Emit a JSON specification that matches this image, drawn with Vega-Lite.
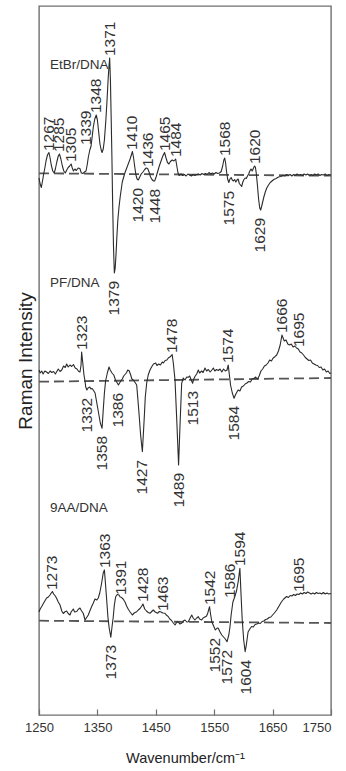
{
  "$schema": "https://vega.github.io/schema/vega-lite/v6.json",
  "width": 292,
  "height": 709,
  "autosize": {"type": "none"},
  "padding": {"left": 39, "top": 6, "right": 15, "bottom": 56},
  "background": "white",
  "config": {
    "view": {"stroke": "#6f6f6f", "strokeWidth": 1.4},
    "font": "Liberation Sans",
    "axis": {"grid": false}
  },
  "datasets": {
    "baselines": [
      {"series": "EtBr/DNA", "wn": 1250, "y": 541.7}, {"series": "EtBr/DNA", "wn": 1750, "y": 539.3},
      {"series": "PF/DNA", "wn": 1250, "y": 333.3}, {"series": "PF/DNA", "wn": 1750, "y": 337},
      {"series": "9AA/DNA", "wn": 1250, "y": 94.3}, {"series": "9AA/DNA", "wn": 1750, "y": 92}
    ],
    "spectra": [
      {"series":"EtBr/DNA","wn":1250,"y":537},{"series":"EtBr/DNA","wn":1252,"y":531},{"series":"EtBr/DNA","wn":1254,"y":527.5},{"series":"EtBr/DNA","wn":1256,"y":534},{"series":"EtBr/DNA","wn":1258,"y":541},{"series":"EtBr/DNA","wn":1260,"y":547},{"series":"EtBr/DNA","wn":1262,"y":554},{"series":"EtBr/DNA","wn":1264.5,"y":560},{"series":"EtBr/DNA","wn":1267,"y":562.5},{"series":"EtBr/DNA","wn":1269,"y":557},{"series":"EtBr/DNA","wn":1271,"y":550},{"series":"EtBr/DNA","wn":1273.5,"y":544},{"series":"EtBr/DNA","wn":1276,"y":542},{"series":"EtBr/DNA","wn":1278,"y":546},{"series":"EtBr/DNA","wn":1280.5,"y":553},{"series":"EtBr/DNA","wn":1283,"y":559},{"series":"EtBr/DNA","wn":1285,"y":561},{"series":"EtBr/DNA","wn":1287.5,"y":556},{"series":"EtBr/DNA","wn":1290,"y":549},{"series":"EtBr/DNA","wn":1292.5,"y":544},{"series":"EtBr/DNA","wn":1295,"y":542},{"series":"EtBr/DNA","wn":1297.5,"y":545},{"series":"EtBr/DNA","wn":1300,"y":547.5},{"series":"EtBr/DNA","wn":1302.5,"y":549},{"series":"EtBr/DNA","wn":1305,"y":551},{"series":"EtBr/DNA","wn":1307,"y":547},{"series":"EtBr/DNA","wn":1309,"y":544},{"series":"EtBr/DNA","wn":1311.5,"y":546},{"series":"EtBr/DNA","wn":1314,"y":544.5},{"series":"EtBr/DNA","wn":1317,"y":547},{"series":"EtBr/DNA","wn":1320,"y":546.5},{"series":"EtBr/DNA","wn":1322.5,"y":542},{"series":"EtBr/DNA","wn":1325,"y":541.5},{"series":"EtBr/DNA","wn":1328,"y":543},{"series":"EtBr/DNA","wn":1330.5,"y":544},{"series":"EtBr/DNA","wn":1332.5,"y":550},{"series":"EtBr/DNA","wn":1334.5,"y":558},{"series":"EtBr/DNA","wn":1337,"y":565},{"series":"EtBr/DNA","wn":1339,"y":568.5},{"series":"EtBr/DNA","wn":1341,"y":578},{"series":"EtBr/DNA","wn":1343,"y":588},{"series":"EtBr/DNA","wn":1345.5,"y":596},{"series":"EtBr/DNA","wn":1348,"y":600},{"series":"EtBr/DNA","wn":1350,"y":595},{"series":"EtBr/DNA","wn":1352,"y":584},{"series":"EtBr/DNA","wn":1354.4,"y":571},{"series":"EtBr/DNA","wn":1356.5,"y":565},{"series":"EtBr/DNA","wn":1358,"y":562.5},{"series":"EtBr/DNA","wn":1360,"y":566},{"series":"EtBr/DNA","wn":1362,"y":575},{"series":"EtBr/DNA","wn":1364.5,"y":595},{"series":"EtBr/DNA","wn":1366.5,"y":615},{"series":"EtBr/DNA","wn":1368.5,"y":637},{"series":"EtBr/DNA","wn":1370,"y":650},{"series":"EtBr/DNA","wn":1371,"y":657},{"series":"EtBr/DNA","wn":1372.3,"y":635},{"series":"EtBr/DNA","wn":1373.5,"y":600},{"series":"EtBr/DNA","wn":1374.8,"y":560},{"series":"EtBr/DNA","wn":1376,"y":515},{"series":"EtBr/DNA","wn":1377.5,"y":470},{"series":"EtBr/DNA","wn":1379,"y":442},{"series":"EtBr/DNA","wn":1380.5,"y":447},{"series":"EtBr/DNA","wn":1382,"y":462},{"series":"EtBr/DNA","wn":1383.5,"y":480},{"series":"EtBr/DNA","wn":1385,"y":495},{"series":"EtBr/DNA","wn":1387,"y":508},{"series":"EtBr/DNA","wn":1389,"y":518},{"series":"EtBr/DNA","wn":1392.6,"y":533},{"series":"EtBr/DNA","wn":1397,"y":542},{"series":"EtBr/DNA","wn":1401.5,"y":549},{"series":"EtBr/DNA","wn":1406,"y":556},{"series":"EtBr/DNA","wn":1410,"y":563.5},{"series":"EtBr/DNA","wn":1412,"y":557},{"series":"EtBr/DNA","wn":1414,"y":548},{"series":"EtBr/DNA","wn":1416,"y":540},{"series":"EtBr/DNA","wn":1418,"y":536},{"series":"EtBr/DNA","wn":1420,"y":535},{"series":"EtBr/DNA","wn":1422.5,"y":538},{"series":"EtBr/DNA","wn":1425,"y":541},{"series":"EtBr/DNA","wn":1428,"y":543},{"series":"EtBr/DNA","wn":1431,"y":545.5},{"series":"EtBr/DNA","wn":1433.5,"y":547},{"series":"EtBr/DNA","wn":1436,"y":546.5},{"series":"EtBr/DNA","wn":1438.5,"y":543},{"series":"EtBr/DNA","wn":1441,"y":538},{"series":"EtBr/DNA","wn":1443.5,"y":535.5},{"series":"EtBr/DNA","wn":1446,"y":534},{"series":"EtBr/DNA","wn":1448,"y":534},{"series":"EtBr/DNA","wn":1450.5,"y":538},{"series":"EtBr/DNA","wn":1453,"y":543},{"series":"EtBr/DNA","wn":1456,"y":549},{"series":"EtBr/DNA","wn":1459,"y":554},{"series":"EtBr/DNA","wn":1462,"y":559},{"series":"EtBr/DNA","wn":1465,"y":562.5},{"series":"EtBr/DNA","wn":1467.5,"y":557},{"series":"EtBr/DNA","wn":1470,"y":552.5},{"series":"EtBr/DNA","wn":1472.5,"y":551},{"series":"EtBr/DNA","wn":1475,"y":553.5},{"series":"EtBr/DNA","wn":1478,"y":555},{"series":"EtBr/DNA","wn":1481,"y":554},{"series":"EtBr/DNA","wn":1484,"y":556},{"series":"EtBr/DNA","wn":1486,"y":549},{"series":"EtBr/DNA","wn":1488,"y":542},{"series":"EtBr/DNA","wn":1490,"y":539.5},{"series":"EtBr/DNA","wn":1493,"y":541},{"series":"EtBr/DNA","wn":1496,"y":539.5},{"series":"EtBr/DNA","wn":1499,"y":540.5},{"series":"EtBr/DNA","wn":1502,"y":539},{"series":"EtBr/DNA","wn":1505,"y":541},{"series":"EtBr/DNA","wn":1508,"y":540},{"series":"EtBr/DNA","wn":1511,"y":539},{"series":"EtBr/DNA","wn":1514,"y":540.5},{"series":"EtBr/DNA","wn":1517,"y":539.5},{"series":"EtBr/DNA","wn":1520,"y":540.5},{"series":"EtBr/DNA","wn":1523,"y":541},{"series":"EtBr/DNA","wn":1526,"y":540},{"series":"EtBr/DNA","wn":1529,"y":541.5},{"series":"EtBr/DNA","wn":1532,"y":540.5},{"series":"EtBr/DNA","wn":1535,"y":541.5},{"series":"EtBr/DNA","wn":1538,"y":540.5},{"series":"EtBr/DNA","wn":1541,"y":542.5},{"series":"EtBr/DNA","wn":1544,"y":541},{"series":"EtBr/DNA","wn":1547,"y":542},{"series":"EtBr/DNA","wn":1550,"y":541},{"series":"EtBr/DNA","wn":1553,"y":542.5},{"series":"EtBr/DNA","wn":1556,"y":541.5},{"series":"EtBr/DNA","wn":1559,"y":542},{"series":"EtBr/DNA","wn":1562,"y":543.5},{"series":"EtBr/DNA","wn":1564.5,"y":549},{"series":"EtBr/DNA","wn":1566.5,"y":555},{"series":"EtBr/DNA","wn":1568,"y":557},{"series":"EtBr/DNA","wn":1569.5,"y":552},{"series":"EtBr/DNA","wn":1571,"y":544},{"series":"EtBr/DNA","wn":1573,"y":536},{"series":"EtBr/DNA","wn":1575,"y":532.5},{"series":"EtBr/DNA","wn":1577,"y":536},{"series":"EtBr/DNA","wn":1579,"y":537.5},{"series":"EtBr/DNA","wn":1581,"y":535},{"series":"EtBr/DNA","wn":1583,"y":534},{"series":"EtBr/DNA","wn":1585,"y":535.5},{"series":"EtBr/DNA","wn":1587,"y":533},{"series":"EtBr/DNA","wn":1589,"y":535},{"series":"EtBr/DNA","wn":1591,"y":536},{"series":"EtBr/DNA","wn":1593,"y":531.5},{"series":"EtBr/DNA","wn":1595,"y":530},{"series":"EtBr/DNA","wn":1597,"y":528.5},{"series":"EtBr/DNA","wn":1599,"y":533},{"series":"EtBr/DNA","wn":1601,"y":535.5},{"series":"EtBr/DNA","wn":1603,"y":537},{"series":"EtBr/DNA","wn":1605,"y":536.5},{"series":"EtBr/DNA","wn":1607,"y":539},{"series":"EtBr/DNA","wn":1609,"y":541},{"series":"EtBr/DNA","wn":1611,"y":544},{"series":"EtBr/DNA","wn":1613,"y":546},{"series":"EtBr/DNA","wn":1615,"y":544},{"series":"EtBr/DNA","wn":1617,"y":546.5},{"series":"EtBr/DNA","wn":1619,"y":549},{"series":"EtBr/DNA","wn":1620.5,"y":548},{"series":"EtBr/DNA","wn":1622,"y":542},{"series":"EtBr/DNA","wn":1624,"y":530},{"series":"EtBr/DNA","wn":1626,"y":516},{"series":"EtBr/DNA","wn":1628,"y":507},{"series":"EtBr/DNA","wn":1629.5,"y":505},{"series":"EtBr/DNA","wn":1631,"y":508},{"series":"EtBr/DNA","wn":1633,"y":513},{"series":"EtBr/DNA","wn":1635,"y":518},{"series":"EtBr/DNA","wn":1637.5,"y":523},{"series":"EtBr/DNA","wn":1640,"y":527},{"series":"EtBr/DNA","wn":1643,"y":530},{"series":"EtBr/DNA","wn":1646,"y":532.5},{"series":"EtBr/DNA","wn":1649,"y":534},{"series":"EtBr/DNA","wn":1652,"y":535.5},{"series":"EtBr/DNA","wn":1656,"y":536.5},{"series":"EtBr/DNA","wn":1660,"y":538},{"series":"EtBr/DNA","wn":1664,"y":538.5},{"series":"EtBr/DNA","wn":1668,"y":539.5},{"series":"EtBr/DNA","wn":1671,"y":539},{"series":"EtBr/DNA","wn":1674,"y":540.5},{"series":"EtBr/DNA","wn":1677,"y":539.5},{"series":"EtBr/DNA","wn":1680,"y":540.5},{"series":"EtBr/DNA","wn":1683,"y":539},{"series":"EtBr/DNA","wn":1686,"y":540.5},{"series":"EtBr/DNA","wn":1689,"y":539.5},{"series":"EtBr/DNA","wn":1692,"y":541},{"series":"EtBr/DNA","wn":1695,"y":540},{"series":"EtBr/DNA","wn":1698,"y":540.5},{"series":"EtBr/DNA","wn":1701,"y":539.5},{"series":"EtBr/DNA","wn":1704,"y":541},{"series":"EtBr/DNA","wn":1707,"y":540},{"series":"EtBr/DNA","wn":1710,"y":541},{"series":"EtBr/DNA","wn":1713,"y":539.5},{"series":"EtBr/DNA","wn":1716,"y":540.5},{"series":"EtBr/DNA","wn":1719,"y":539.5},{"series":"EtBr/DNA","wn":1722,"y":541},{"series":"EtBr/DNA","wn":1725,"y":540},{"series":"EtBr/DNA","wn":1728,"y":541},{"series":"EtBr/DNA","wn":1731,"y":539.5},{"series":"EtBr/DNA","wn":1734,"y":540.5},{"series":"EtBr/DNA","wn":1737,"y":540},{"series":"EtBr/DNA","wn":1740,"y":541},{"series":"EtBr/DNA","wn":1743,"y":539.5},{"series":"EtBr/DNA","wn":1746,"y":540.5},{"series":"EtBr/DNA","wn":1750,"y":540},

      {"series":"PF/DNA","wn":1250,"y":345},{"series":"PF/DNA","wn":1252,"y":342},{"series":"PF/DNA","wn":1254.6,"y":344},{"series":"PF/DNA","wn":1257,"y":341},{"series":"PF/DNA","wn":1260,"y":344},{"series":"PF/DNA","wn":1263,"y":343},{"series":"PF/DNA","wn":1266,"y":341.5},{"series":"PF/DNA","wn":1269,"y":344},{"series":"PF/DNA","wn":1272,"y":342.5},{"series":"PF/DNA","wn":1275,"y":343.5},{"series":"PF/DNA","wn":1278,"y":341},{"series":"PF/DNA","wn":1281,"y":344},{"series":"PF/DNA","wn":1283,"y":346},{"series":"PF/DNA","wn":1286,"y":343.5},{"series":"PF/DNA","wn":1289,"y":345},{"series":"PF/DNA","wn":1292,"y":349},{"series":"PF/DNA","wn":1295,"y":347.5},{"series":"PF/DNA","wn":1297.4,"y":351},{"series":"PF/DNA","wn":1300,"y":348},{"series":"PF/DNA","wn":1303,"y":350},{"series":"PF/DNA","wn":1306,"y":348.5},{"series":"PF/DNA","wn":1309,"y":350.5},{"series":"PF/DNA","wn":1312,"y":347},{"series":"PF/DNA","wn":1315,"y":346},{"series":"PF/DNA","wn":1318,"y":343.5},{"series":"PF/DNA","wn":1320.2,"y":343},{"series":"PF/DNA","wn":1322,"y":350},{"series":"PF/DNA","wn":1323,"y":363},{"series":"PF/DNA","wn":1325,"y":352},{"series":"PF/DNA","wn":1327,"y":340},{"series":"PF/DNA","wn":1328.8,"y":334},{"series":"PF/DNA","wn":1330,"y":328},{"series":"PF/DNA","wn":1332,"y":325},{"series":"PF/DNA","wn":1334,"y":327},{"series":"PF/DNA","wn":1337,"y":328},{"series":"PF/DNA","wn":1339,"y":326},{"series":"PF/DNA","wn":1341,"y":326.5},{"series":"PF/DNA","wn":1344,"y":324},{"series":"PF/DNA","wn":1346,"y":322},{"series":"PF/DNA","wn":1349,"y":312},{"series":"PF/DNA","wn":1352,"y":302},{"series":"PF/DNA","wn":1355,"y":292},{"series":"PF/DNA","wn":1358,"y":286.7},{"series":"PF/DNA","wn":1360,"y":305},{"series":"PF/DNA","wn":1362,"y":322},{"series":"PF/DNA","wn":1364,"y":334},{"series":"PF/DNA","wn":1367,"y":342},{"series":"PF/DNA","wn":1369.9,"y":348},{"series":"PF/DNA","wn":1372,"y":345},{"series":"PF/DNA","wn":1375,"y":342},{"series":"PF/DNA","wn":1378,"y":340},{"series":"PF/DNA","wn":1381,"y":335},{"series":"PF/DNA","wn":1383,"y":333},{"series":"PF/DNA","wn":1386,"y":330},{"series":"PF/DNA","wn":1388,"y":332},{"series":"PF/DNA","wn":1390,"y":334},{"series":"PF/DNA","wn":1392.6,"y":336},{"series":"PF/DNA","wn":1395,"y":339},{"series":"PF/DNA","wn":1398,"y":341},{"series":"PF/DNA","wn":1400,"y":342.5},{"series":"PF/DNA","wn":1402,"y":345},{"series":"PF/DNA","wn":1404.6,"y":344},{"series":"PF/DNA","wn":1407,"y":340},{"series":"PF/DNA","wn":1409,"y":336},{"series":"PF/DNA","wn":1411.5,"y":335},{"series":"PF/DNA","wn":1414,"y":333},{"series":"PF/DNA","wn":1417.3,"y":330},{"series":"PF/DNA","wn":1419,"y":318},{"series":"PF/DNA","wn":1421.2,"y":302},{"series":"PF/DNA","wn":1424,"y":280},{"series":"PF/DNA","wn":1427,"y":263.3},{"series":"PF/DNA","wn":1430.3,"y":298},{"series":"PF/DNA","wn":1432,"y":318},{"series":"PF/DNA","wn":1434.4,"y":332},{"series":"PF/DNA","wn":1437,"y":340},{"series":"PF/DNA","wn":1440,"y":345},{"series":"PF/DNA","wn":1443,"y":348.3},{"series":"PF/DNA","wn":1446,"y":351},{"series":"PF/DNA","wn":1449.8,"y":352},{"series":"PF/DNA","wn":1452,"y":349.5},{"series":"PF/DNA","wn":1455,"y":351},{"series":"PF/DNA","wn":1458,"y":350},{"series":"PF/DNA","wn":1461,"y":353},{"series":"PF/DNA","wn":1463,"y":352},{"series":"PF/DNA","wn":1466,"y":354.5},{"series":"PF/DNA","wn":1469,"y":355},{"series":"PF/DNA","wn":1471.4,"y":357},{"series":"PF/DNA","wn":1474,"y":358},{"series":"PF/DNA","wn":1476,"y":359},{"series":"PF/DNA","wn":1478,"y":360.5},{"series":"PF/DNA","wn":1480,"y":352},{"series":"PF/DNA","wn":1482.9,"y":335},{"series":"PF/DNA","wn":1486.1,"y":292},{"series":"PF/DNA","wn":1489,"y":250},{"series":"PF/DNA","wn":1491.6,"y":292},{"series":"PF/DNA","wn":1494.3,"y":331.7},{"series":"PF/DNA","wn":1497,"y":337},{"series":"PF/DNA","wn":1500,"y":335},{"series":"PF/DNA","wn":1503,"y":338},{"series":"PF/DNA","wn":1505.6,"y":337.7},{"series":"PF/DNA","wn":1508,"y":339},{"series":"PF/DNA","wn":1510,"y":336},{"series":"PF/DNA","wn":1513,"y":331.7},{"series":"PF/DNA","wn":1515,"y":336},{"series":"PF/DNA","wn":1517,"y":338.5},{"series":"PF/DNA","wn":1520,"y":341},{"series":"PF/DNA","wn":1522.8,"y":345},{"series":"PF/DNA","wn":1525,"y":342},{"series":"PF/DNA","wn":1528.6,"y":344},{"series":"PF/DNA","wn":1531,"y":342.5},{"series":"PF/DNA","wn":1534.2,"y":347},{"series":"PF/DNA","wn":1537,"y":344},{"series":"PF/DNA","wn":1540,"y":345.5},{"series":"PF/DNA","wn":1543,"y":343},{"series":"PF/DNA","wn":1546,"y":345},{"series":"PF/DNA","wn":1548.5,"y":347},{"series":"PF/DNA","wn":1551,"y":344},{"series":"PF/DNA","wn":1554,"y":345.5},{"series":"PF/DNA","wn":1557,"y":344.5},{"series":"PF/DNA","wn":1560,"y":346},{"series":"PF/DNA","wn":1563,"y":343},{"series":"PF/DNA","wn":1566,"y":346},{"series":"PF/DNA","wn":1569,"y":344},{"series":"PF/DNA","wn":1572,"y":345},{"series":"PF/DNA","wn":1574,"y":350},{"series":"PF/DNA","wn":1576,"y":340},{"series":"PF/DNA","wn":1578,"y":330},{"series":"PF/DNA","wn":1581,"y":322},{"series":"PF/DNA","wn":1584,"y":316.7},{"series":"PF/DNA","wn":1587,"y":321},{"series":"PF/DNA","wn":1591,"y":325},{"series":"PF/DNA","wn":1594,"y":324},{"series":"PF/DNA","wn":1597,"y":328},{"series":"PF/DNA","wn":1600,"y":329},{"series":"PF/DNA","wn":1603,"y":331},{"series":"PF/DNA","wn":1606,"y":332},{"series":"PF/DNA","wn":1609,"y":333.5},{"series":"PF/DNA","wn":1612,"y":333},{"series":"PF/DNA","wn":1615,"y":336},{"series":"PF/DNA","wn":1618,"y":336.5},{"series":"PF/DNA","wn":1621,"y":338},{"series":"PF/DNA","wn":1624,"y":336},{"series":"PF/DNA","wn":1627,"y":339},{"series":"PF/DNA","wn":1630,"y":344},{"series":"PF/DNA","wn":1633,"y":346},{"series":"PF/DNA","wn":1636,"y":349},{"series":"PF/DNA","wn":1639,"y":350},{"series":"PF/DNA","wn":1642,"y":352},{"series":"PF/DNA","wn":1645,"y":355},{"series":"PF/DNA","wn":1648,"y":354},{"series":"PF/DNA","wn":1651,"y":357},{"series":"PF/DNA","wn":1654,"y":358.3},{"series":"PF/DNA","wn":1657,"y":360},{"series":"PF/DNA","wn":1660,"y":364},{"series":"PF/DNA","wn":1663,"y":370},{"series":"PF/DNA","wn":1666,"y":380},{"series":"PF/DNA","wn":1668,"y":377},{"series":"PF/DNA","wn":1670,"y":374},{"series":"PF/DNA","wn":1673,"y":375},{"series":"PF/DNA","wn":1676,"y":371},{"series":"PF/DNA","wn":1679,"y":370},{"series":"PF/DNA","wn":1682,"y":371},{"series":"PF/DNA","wn":1685,"y":368},{"series":"PF/DNA","wn":1688,"y":369},{"series":"PF/DNA","wn":1691,"y":367},{"series":"PF/DNA","wn":1694,"y":366},{"series":"PF/DNA","wn":1697,"y":363},{"series":"PF/DNA","wn":1700,"y":362},{"series":"PF/DNA","wn":1703,"y":360},{"series":"PF/DNA","wn":1706,"y":357.5},{"series":"PF/DNA","wn":1709,"y":356},{"series":"PF/DNA","wn":1712,"y":354.5},{"series":"PF/DNA","wn":1715,"y":355},{"series":"PF/DNA","wn":1718,"y":352},{"series":"PF/DNA","wn":1721,"y":351},{"series":"PF/DNA","wn":1724,"y":350},{"series":"PF/DNA","wn":1727,"y":349.5},{"series":"PF/DNA","wn":1730,"y":347.5},{"series":"PF/DNA","wn":1733,"y":348},{"series":"PF/DNA","wn":1736,"y":345},{"series":"PF/DNA","wn":1739,"y":346},{"series":"PF/DNA","wn":1742,"y":343},{"series":"PF/DNA","wn":1745,"y":344},{"series":"PF/DNA","wn":1748,"y":341.5},{"series":"PF/DNA","wn":1750,"y":342},

      {"series":"9AA/DNA","wn":1250,"y":103},{"series":"9AA/DNA","wn":1252,"y":106},{"series":"9AA/DNA","wn":1254.6,"y":108.5},{"series":"9AA/DNA","wn":1257,"y":111},{"series":"9AA/DNA","wn":1260,"y":114},{"series":"9AA/DNA","wn":1263,"y":117},{"series":"9AA/DNA","wn":1266,"y":118},{"series":"9AA/DNA","wn":1268.8,"y":120},{"series":"9AA/DNA","wn":1271,"y":122},{"series":"9AA/DNA","wn":1273,"y":123.5},{"series":"9AA/DNA","wn":1275,"y":121},{"series":"9AA/DNA","wn":1278,"y":119},{"series":"9AA/DNA","wn":1280.3,"y":116.5},{"series":"9AA/DNA","wn":1283,"y":113},{"series":"9AA/DNA","wn":1286,"y":110},{"series":"9AA/DNA","wn":1289,"y":104},{"series":"9AA/DNA","wn":1291.6,"y":101.5},{"series":"9AA/DNA","wn":1294,"y":103},{"series":"9AA/DNA","wn":1297.4,"y":104},{"series":"9AA/DNA","wn":1300,"y":101.5},{"series":"9AA/DNA","wn":1303,"y":100},{"series":"9AA/DNA","wn":1305,"y":103},{"series":"9AA/DNA","wn":1308.7,"y":106},{"series":"9AA/DNA","wn":1311,"y":103},{"series":"9AA/DNA","wn":1314.6,"y":103.5},{"series":"9AA/DNA","wn":1317,"y":105.5},{"series":"9AA/DNA","wn":1320.2,"y":107},{"series":"9AA/DNA","wn":1323,"y":104},{"series":"9AA/DNA","wn":1325.9,"y":101.5},{"series":"9AA/DNA","wn":1328.8,"y":95},{"series":"9AA/DNA","wn":1331,"y":97},{"series":"9AA/DNA","wn":1334.4,"y":100},{"series":"9AA/DNA","wn":1337,"y":104},{"series":"9AA/DNA","wn":1340.2,"y":108.5},{"series":"9AA/DNA","wn":1343,"y":112},{"series":"9AA/DNA","wn":1345.9,"y":116},{"series":"9AA/DNA","wn":1349,"y":115},{"series":"9AA/DNA","wn":1351.5,"y":117},{"series":"9AA/DNA","wn":1354,"y":122},{"series":"9AA/DNA","wn":1357,"y":131},{"series":"9AA/DNA","wn":1360,"y":142},{"series":"9AA/DNA","wn":1362,"y":145},{"series":"9AA/DNA","wn":1364,"y":130},{"series":"9AA/DNA","wn":1365.9,"y":115},{"series":"9AA/DNA","wn":1368,"y":98},{"series":"9AA/DNA","wn":1369.9,"y":88},{"series":"9AA/DNA","wn":1373,"y":77.7},{"series":"9AA/DNA","wn":1375,"y":88},{"series":"9AA/DNA","wn":1377.2,"y":98.3},{"series":"9AA/DNA","wn":1379,"y":110},{"series":"9AA/DNA","wn":1381.3,"y":118.3},{"series":"9AA/DNA","wn":1384,"y":120.5},{"series":"9AA/DNA","wn":1387,"y":120},{"series":"9AA/DNA","wn":1389,"y":118},{"series":"9AA/DNA","wn":1391,"y":117.7},{"series":"9AA/DNA","wn":1394,"y":116},{"series":"9AA/DNA","wn":1397.3,"y":113},{"series":"9AA/DNA","wn":1400,"y":109},{"series":"9AA/DNA","wn":1402.9,"y":105.7},{"series":"9AA/DNA","wn":1406,"y":103},{"series":"9AA/DNA","wn":1409.8,"y":100},{"series":"9AA/DNA","wn":1413,"y":102},{"series":"9AA/DNA","wn":1417.3,"y":103.3},{"series":"9AA/DNA","wn":1420,"y":105},{"series":"9AA/DNA","wn":1423,"y":106.5},{"series":"9AA/DNA","wn":1426,"y":109},{"series":"9AA/DNA","wn":1428,"y":111},{"series":"9AA/DNA","wn":1431,"y":106},{"series":"9AA/DNA","wn":1434,"y":104},{"series":"9AA/DNA","wn":1437,"y":102.5},{"series":"9AA/DNA","wn":1440,"y":101.7},{"series":"9AA/DNA","wn":1443,"y":103.5},{"series":"9AA/DNA","wn":1445.7,"y":105},{"series":"9AA/DNA","wn":1449,"y":103},{"series":"9AA/DNA","wn":1453,"y":101.7},{"series":"9AA/DNA","wn":1456,"y":103.5},{"series":"9AA/DNA","wn":1459,"y":103},{"series":"9AA/DNA","wn":1462,"y":102},{"series":"9AA/DNA","wn":1465.7,"y":101.7},{"series":"9AA/DNA","wn":1468,"y":100},{"series":"9AA/DNA","wn":1471.4,"y":98.3},{"series":"9AA/DNA","wn":1474,"y":96},{"series":"9AA/DNA","wn":1477.2,"y":94.3},{"series":"9AA/DNA","wn":1480,"y":92},{"series":"9AA/DNA","wn":1483,"y":90},{"series":"9AA/DNA","wn":1486,"y":93},{"series":"9AA/DNA","wn":1488.5,"y":93.3},{"series":"9AA/DNA","wn":1491,"y":91},{"series":"9AA/DNA","wn":1494.3,"y":91.7},{"series":"9AA/DNA","wn":1497,"y":94},{"series":"9AA/DNA","wn":1500,"y":95},{"series":"9AA/DNA","wn":1503,"y":93},{"series":"9AA/DNA","wn":1505.6,"y":93.3},{"series":"9AA/DNA","wn":1508,"y":96},{"series":"9AA/DNA","wn":1511.5,"y":100},{"series":"9AA/DNA","wn":1514,"y":97},{"series":"9AA/DNA","wn":1517,"y":95},{"series":"9AA/DNA","wn":1520,"y":97},{"series":"9AA/DNA","wn":1522.8,"y":98.3},{"series":"9AA/DNA","wn":1525,"y":96},{"series":"9AA/DNA","wn":1528.6,"y":95},{"series":"9AA/DNA","wn":1531,"y":97},{"series":"9AA/DNA","wn":1534,"y":98},{"series":"9AA/DNA","wn":1537,"y":99},{"series":"9AA/DNA","wn":1539,"y":102},{"series":"9AA/DNA","wn":1542,"y":108.3},{"series":"9AA/DNA","wn":1544,"y":100},{"series":"9AA/DNA","wn":1546,"y":93},{"series":"9AA/DNA","wn":1549,"y":89},{"series":"9AA/DNA","wn":1552,"y":85},{"series":"9AA/DNA","wn":1555,"y":87},{"series":"9AA/DNA","wn":1557,"y":86.7},{"series":"9AA/DNA","wn":1560,"y":83},{"series":"9AA/DNA","wn":1563,"y":80},{"series":"9AA/DNA","wn":1566,"y":78},{"series":"9AA/DNA","wn":1569,"y":76},{"series":"9AA/DNA","wn":1572,"y":73.3},{"series":"9AA/DNA","wn":1575,"y":80},{"series":"9AA/DNA","wn":1577,"y":88},{"series":"9AA/DNA","wn":1579,"y":100},{"series":"9AA/DNA","wn":1582,"y":113},{"series":"9AA/DNA","wn":1585,"y":118},{"series":"9AA/DNA","wn":1588,"y":123.3},{"series":"9AA/DNA","wn":1591,"y":133},{"series":"9AA/DNA","wn":1594,"y":146.7},{"series":"9AA/DNA","wn":1596,"y":120},{"series":"9AA/DNA","wn":1598,"y":95},{"series":"9AA/DNA","wn":1600.5,"y":75},{"series":"9AA/DNA","wn":1603,"y":63.3},{"series":"9AA/DNA","wn":1605,"y":70},{"series":"9AA/DNA","wn":1608,"y":83},{"series":"9AA/DNA","wn":1611,"y":86},{"series":"9AA/DNA","wn":1614,"y":88.5},{"series":"9AA/DNA","wn":1617,"y":88},{"series":"9AA/DNA","wn":1620,"y":90.5},{"series":"9AA/DNA","wn":1623,"y":91},{"series":"9AA/DNA","wn":1626,"y":92},{"series":"9AA/DNA","wn":1629,"y":91.5},{"series":"9AA/DNA","wn":1632,"y":93.5},{"series":"9AA/DNA","wn":1635,"y":94},{"series":"9AA/DNA","wn":1638,"y":95.5},{"series":"9AA/DNA","wn":1641,"y":96},{"series":"9AA/DNA","wn":1644,"y":97.5},{"series":"9AA/DNA","wn":1647,"y":98},{"series":"9AA/DNA","wn":1650,"y":100},{"series":"9AA/DNA","wn":1653,"y":102},{"series":"9AA/DNA","wn":1657,"y":105},{"series":"9AA/DNA","wn":1661,"y":109},{"series":"9AA/DNA","wn":1665,"y":113},{"series":"9AA/DNA","wn":1669,"y":116},{"series":"9AA/DNA","wn":1674,"y":118.5},{"series":"9AA/DNA","wn":1677,"y":117.5},{"series":"9AA/DNA","wn":1680,"y":119.5},{"series":"9AA/DNA","wn":1683,"y":119},{"series":"9AA/DNA","wn":1686,"y":120.5},{"series":"9AA/DNA","wn":1689,"y":119.5},{"series":"9AA/DNA","wn":1692,"y":121},{"series":"9AA/DNA","wn":1695,"y":120.5},{"series":"9AA/DNA","wn":1698,"y":122},{"series":"9AA/DNA","wn":1701,"y":121},{"series":"9AA/DNA","wn":1704,"y":122.5},{"series":"9AA/DNA","wn":1707,"y":121.5},{"series":"9AA/DNA","wn":1710,"y":123},{"series":"9AA/DNA","wn":1713,"y":122},{"series":"9AA/DNA","wn":1716,"y":121},{"series":"9AA/DNA","wn":1719,"y":122},{"series":"9AA/DNA","wn":1722,"y":121},{"series":"9AA/DNA","wn":1725,"y":122.5},{"series":"9AA/DNA","wn":1728,"y":121.5},{"series":"9AA/DNA","wn":1731,"y":122},{"series":"9AA/DNA","wn":1734,"y":121},{"series":"9AA/DNA","wn":1737,"y":122.5},{"series":"9AA/DNA","wn":1740,"y":121},{"series":"9AA/DNA","wn":1743,"y":122},{"series":"9AA/DNA","wn":1746,"y":121},{"series":"9AA/DNA","wn":1750,"y":121.5}
    ],
    "bands": [
      {"series":"EtBr/DNA","wn":1267,"y":562,"kind":"peak"},{"series":"EtBr/DNA","wn":1285,"y":561,"kind":"peak"},{"series":"EtBr/DNA","wn":1305,"y":551,"kind":"peak"},{"series":"EtBr/DNA","wn":1339,"y":568,"kind":"peak"},{"series":"EtBr/DNA","wn":1348,"y":600,"kind":"peak"},{"series":"EtBr/DNA","wn":1371,"y":657,"kind":"peak"},{"series":"EtBr/DNA","wn":1410,"y":563,"kind":"peak"},{"series":"EtBr/DNA","wn":1436,"y":546,"kind":"peak"},{"series":"EtBr/DNA","wn":1465,"y":562,"kind":"peak"},{"series":"EtBr/DNA","wn":1484,"y":556,"kind":"peak"},{"series":"EtBr/DNA","wn":1568,"y":557,"kind":"peak"},{"series":"EtBr/DNA","wn":1620,"y":549,"kind":"peak"},
      {"series":"EtBr/DNA","wn":1379,"y":442,"kind":"dip"},{"series":"EtBr/DNA","wn":1420,"y":535,"kind":"dip"},{"series":"EtBr/DNA","wn":1448,"y":534,"kind":"dip"},{"series":"EtBr/DNA","wn":1575,"y":532,"kind":"dip"},{"series":"EtBr/DNA","wn":1629,"y":505,"kind":"dip"},
      {"series":"PF/DNA","wn":1323,"y":363,"kind":"peak"},{"series":"PF/DNA","wn":1478,"y":360,"kind":"peak"},{"series":"PF/DNA","wn":1574,"y":350,"kind":"peak"},{"series":"PF/DNA","wn":1666,"y":380,"kind":"peak"},{"series":"PF/DNA","wn":1695,"y":366,"kind":"peak"},
      {"series":"PF/DNA","wn":1332,"y":325,"kind":"dip"},{"series":"PF/DNA","wn":1358,"y":287,"kind":"dip"},{"series":"PF/DNA","wn":1386,"y":330,"kind":"dip"},{"series":"PF/DNA","wn":1427,"y":263,"kind":"dip"},{"series":"PF/DNA","wn":1489,"y":250,"kind":"dip"},{"series":"PF/DNA","wn":1513,"y":332,"kind":"dip"},{"series":"PF/DNA","wn":1584,"y":317,"kind":"dip"},
      {"series":"9AA/DNA","wn":1273,"y":123,"kind":"peak"},{"series":"9AA/DNA","wn":1363,"y":145,"kind":"peak"},{"series":"9AA/DNA","wn":1391,"y":118,"kind":"peak"},{"series":"9AA/DNA","wn":1428,"y":111,"kind":"peak"},{"series":"9AA/DNA","wn":1463,"y":102,"kind":"peak"},{"series":"9AA/DNA","wn":1542,"y":108,"kind":"peak"},{"series":"9AA/DNA","wn":1586,"y":115,"kind":"peak"},{"series":"9AA/DNA","wn":1594,"y":147,"kind":"peak"},{"series":"9AA/DNA","wn":1695,"y":121,"kind":"peak"},
      {"series":"9AA/DNA","wn":1373,"y":78,"kind":"dip"},{"series":"9AA/DNA","wn":1552,"y":85,"kind":"dip"},{"series":"9AA/DNA","wn":1572,"y":73,"kind":"dip"},{"series":"9AA/DNA","wn":1604,"y":63,"kind":"dip"}
    ]
  },
  "layer": [
    {
      "data": {"name": "baselines"},
      "mark": {"type": "line", "stroke": "#555", "strokeWidth": 1.8, "strokeDash": [10, 5]},
      "encoding": {
        "x": {
          "field": "wn",
          "type": "quantitative",
          "title": "Wavenumber/cm⁻¹",
          "scale": {"domain": [1250, 1750], "nice": false, "zero": false},
          "axis": {
            "values": [1250, 1350, 1450, 1550, 1650, 1750],
            "format": "d",
            "domain": false,
            "tickSize": -6,
            "tickColor": "#6f6f6f",
            "tickWidth": 1.2,
            "labelFlush": false,
            "labelAlign": {"condition": {"test": "datum.value >= 1750", "value": "right"}, "value": "center"},
            "labelFont": "Liberation Sans",
            "labelFontSize": 13,
            "labelColor": "#333",
            "labelPadding": 12,
            "titleFont": "Liberation Sans",
            "titleFontSize": 14.5,
            "titleFontWeight": "normal",
            "titleColor": "#222",
            "titlePadding": 17
          }
        },
        "y": {
          "field": "y",
          "type": "quantitative",
          "title": "Raman Intensity",
          "scale": {"domain": [0, 709], "nice": false, "zero": false},
          "axis": {
            "labels": false,
            "ticks": false,
            "domain": false,
            "titleFont": "Liberation Sans",
            "titleFontSize": 19,
            "titleFontWeight": "normal",
            "titleColor": "#222",
            "titlePadding": 4
          }
        },
        "detail": {"field": "series"}
      }
    },
    {
      "data": {"name": "spectra"},
      "mark": {"type": "line", "stroke": "#2b2b2b", "strokeWidth": 1.1, "strokeJoin": "round"},
      "encoding": {
        "x": {"field": "wn", "type": "quantitative", "title": "Wavenumber/cm⁻¹"},
        "y": {"field": "y", "type": "quantitative", "title": "Raman Intensity"},
        "detail": {"field": "series"}
      }
    },
    {
      "data": {"name": "bands"},
      "transform": [{"filter": "datum.kind === 'peak' && indexof([1339, 1586], datum.wn) < 0"}],
      "mark": {"type": "text", "angle": 270, "align": "left", "baseline": "middle", "dx": 2, "font": "Liberation Sans", "fontSize": 15.5, "fill": "#333"},
      "encoding": {
        "x": {"field": "wn", "type": "quantitative", "title": "Wavenumber/cm⁻¹"},
        "y": {"field": "y", "type": "quantitative", "title": "Raman Intensity"},
        "text": {"field": "wn", "type": "quantitative", "format": "d"}
      }
    },
    {
      "data": {"name": "bands"},
      "transform": [{"filter": "datum.kind === 'peak' && indexof([1339, 1586], datum.wn) >= 0"}],
      "mark": {"type": "text", "angle": 270, "align": "left", "baseline": "middle", "dx": 2, "dy": -5, "font": "Liberation Sans", "fontSize": 15.5, "fill": "#333"},
      "encoding": {
        "x": {"field": "wn", "type": "quantitative", "title": "Wavenumber/cm⁻¹"},
        "y": {"field": "y", "type": "quantitative", "title": "Raman Intensity"},
        "text": {"field": "wn", "type": "quantitative", "format": "d"}
      }
    },
    {
      "data": {"name": "bands"},
      "transform": [{"filter": "datum.kind === 'dip'"}],
      "mark": {"type": "text", "angle": 270, "align": "right", "baseline": "middle", "dx": -8, "font": "Liberation Sans", "fontSize": 15.5, "fill": "#333"},
      "encoding": {
        "x": {"field": "wn", "type": "quantitative", "title": "Wavenumber/cm⁻¹"},
        "y": {"field": "y", "type": "quantitative", "title": "Raman Intensity"},
        "text": {"field": "wn", "type": "quantitative", "format": "d"}
      }
    },
    {
      "data": {"values": [{"name": "EtBr/DNA"}]},
      "mark": {"type": "text", "align": "left", "baseline": "middle", "font": "Liberation Sans", "fontSize": 13.5, "fill": "#333"},
      "encoding": {
        "x": {"datum": 1269, "type": "quantitative", "title": "Wavenumber/cm⁻¹"},
        "y": {"datum": 650, "type": "quantitative", "title": "Raman Intensity"},
        "text": {"field": "name"}
      }
    },
    {
      "data": {"values": [{"name": "PF/DNA"}]},
      "mark": {"type": "text", "align": "left", "baseline": "middle", "font": "Liberation Sans", "fontSize": 13.5, "fill": "#333"},
      "encoding": {
        "x": {"datum": 1269, "type": "quantitative", "title": "Wavenumber/cm⁻¹"},
        "y": {"datum": 432, "type": "quantitative", "title": "Raman Intensity"},
        "text": {"field": "name"}
      }
    },
    {
      "data": {"values": [{"name": "9AA/DNA"}]},
      "mark": {"type": "text", "align": "left", "baseline": "middle", "font": "Liberation Sans", "fontSize": 13.5, "fill": "#333"},
      "encoding": {
        "x": {"datum": 1269, "type": "quantitative", "title": "Wavenumber/cm⁻¹"},
        "y": {"datum": 207, "type": "quantitative", "title": "Raman Intensity"},
        "text": {"field": "name"}
      }
    }
  ]
}
